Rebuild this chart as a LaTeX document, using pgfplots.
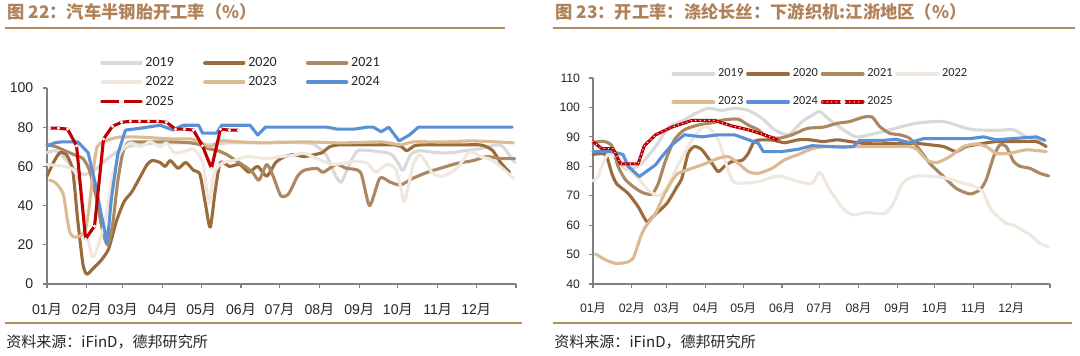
\documentclass[border=0pt]{standalone}
\usepackage{fontspec}
\setmainfont{Liberation Sans}
\newfontfamily\cjk{Noto Sans CJK SC}
\newfontfamily\legfont{Carlito}
\usepackage{pgfplots}
\pgfplotsset{compat=1.18}
\definecolor{c2019}{RGB}{217,217,217}
\definecolor{c2020}{RGB}{155,107,60}
\definecolor{c2021}{RGB}{172,136,96}
\definecolor{c2022}{RGB}{240,232,222}
\definecolor{c2023}{RGB}{220,186,146}
\definecolor{c2024}{RGB}{91,143,214}
\definecolor{c2025}{RGB}{192,0,0}
\definecolor{axisgray}{RGB}{128,128,128}
\definecolor{titlecol}{RGB}{176,130,90}
\definecolor{rulecol}{RGB}{180,140,100}
\definecolor{txt}{RGB}{38,38,38}
\pgfplotsset{
  basechart/.style={
    scale only axis,
    axis x line*=bottom, axis y line*=left,
    axis line style={draw=axisgray, line width=0.3mm},
    tick style={draw=axisgray, line width=0.3mm},
    tick align=outside, major tick length=1mm,
    xmin=0, xmax=365,
    xtick={0,31,59,90,120,151,181,212,243,273,304,334,365},
    xticklabels={01{\cjk 月},02{\cjk 月},03{\cjk 月},04{\cjk 月},05{\cjk 月},06{\cjk 月},07{\cjk 月},08{\cjk 月},09{\cjk 月},10{\cjk 月},11{\cjk 月},12{\cjk 月},{}},
    /pgf/number format/assume math mode=true,
    clip=false,
    legend cell align=left,
    every axis plot/.append style={line width=2.2pt, line join=round, line cap=round},
  },
  redlegL/.style={legend image code/.code={\draw[##1, mark=none, line width=2.8pt] (0mm,0mm) -- (9.6mm,0mm); \fill[white] (4.8mm,0mm) circle (0.9pt);}},
  redlegR/.style={legend image code/.code={\draw[##1, mark=none, line width=2.8pt] (0mm,0mm) -- (10mm,0mm); \fill[white] (5mm,0mm) circle (0.9pt);}},
}
\begin{document}
\begin{tikzpicture}
\path[fill=white, use as bounding box] (0,0) rectangle (270mm,89mm);
% titles and rules
\node[anchor=west, inner sep=0pt, text=titlecol, font=\cjk\bfseries\fontsize{12.3}{14}\selectfont] at (1.75mm,86mm) {图 22：汽车半钢胎开工率（\%）};
\node[anchor=west, inner sep=0pt, text=titlecol, font=\cjk\bfseries\fontsize{12.3}{14}\selectfont] at (138.75mm,86mm) {图 23：开工率：涤纶长丝：下游织机:江浙地区（\%）};
\draw[rulecol, line width=0.5mm] (1.25mm,82mm) -- (126.25mm,82mm);
\draw[rulecol, line width=0.5mm] (138.25mm,82mm) -- (268.75mm,82mm);
\draw[rulecol, line width=0.35mm] (1.25mm,8.25mm) -- (130.5mm,8.25mm);
\draw[rulecol, line width=0.35mm] (138.25mm,8.25mm) -- (268mm,8.25mm);
\node[anchor=west, inner sep=0pt, text=txt, font=\cjk\fontsize{10.7}{12}\selectfont] at (1.5mm,3.5mm) {资料来源：iFinD，德邦研究所};
\node[anchor=west, inner sep=0pt, text=txt, font=\cjk\fontsize{10.7}{12}\selectfont] at (138.5mm,3.5mm) {资料来源：iFinD，德邦研究所};

% LEFT
\begin{axis}[basechart,
  at={(11.75mm,18mm)}, anchor=origin,
  width=117.25mm, height=49mm,
  ymin=0, ymax=100, ytick={0,20,40,60,80,100},
  ticklabel style={font=\fontsize{10}{12}\selectfont, text=txt},
  xticklabel style={yshift=-2.7mm},
  yticklabel style={xshift=-1.2mm},
  legend image code/.code={\draw[#1, line width=2.8pt] (0mm,0mm) -- (9.6mm,0mm);},
  legend columns=3,
  legend style={draw=none, fill=none, inner sep=0pt, at={(axis description cs:0.113,1.172)}, anchor=north west,
    font=\legfont\fontsize{10}{12}\selectfont, text=txt, row sep=0.6mm,
    nodes={inner sep=2pt},
    /tikz/every odd column/.append style={column sep=0pt},
    /tikz/every even column/.append style={column sep=6.6mm}},
]
\addplot[c2019, smooth, tension=0.4] coordinates {(0,67) (7,68) (14,64) (21,59) (28,56) (35,57) (42,61) (49,65) (56,68) (63,70) (70,71) (77,71.5) (84,72) (98,72) (112,72) (126,71) (140,72) (154,72) (168,72) (182,72.5) (196,72) (207,71.5) (217,66) (224,56) (229,52) (236,62) (242,68) (252,68) (267,66.5) (273,62) (277,58) (283,66) (290,68) (303,67) (315,67) (325,68) (337,69) (350,71) (355,70) (364,62)};
\addlegendentry{2019}
\addplot[c2020, smooth, tension=0.4] coordinates {(0,55) (5,62) (10,67) (15,66) (20,58) (24,32) (28,10) (31,5) (36,8) (42,12) (48,18) (54,32) (60,42) (66,47) (72,54) (78,61) (82,63) (88,62) (92,60) (96,63) (102,59) (108,62) (114,58) (119,56) (123,42) (127,29) (131,48) (135,62) (142,60) (150,61) (157,57) (164,60) (171,55) (178,62) (185,65) (192,66) (200,65) (208,66) (214,67) (220,70) (227,71) (241,71) (255,71) (270,71) (276,70) (280,68) (286,70.5) (293,71) (310,71) (325,71) (337,71) (342,70) (347,68) (353,62) (360,57)};
\addlegendentry{2020}
\addplot[c2021, smooth, tension=0.4] coordinates {(0,71) (7,70) (14,68) (21,66) (28,64) (33,58) (38,45) (43,28) (47,20) (51,30) (55,52) (59,67) (63,72) (70,72.5) (84,72.5) (98,72.5) (112,72) (119,71) (126,69) (133,68) (140,66) (147,63) (154,60) (160,57) (165,53) (171,61) (176,55) (182,45) (188,46) (195,55) (200,58) (210,59) (215,57) (225,61) (233,59) (244,57) (251,40) (259,54) (267,52) (275,50.5) (285,54) (296,57) (306,59) (319,61.5) (332,63) (342,65) (353,64) (364,64)};
\addlegendentry{2021}
\addplot[c2022, smooth, tension=0.4] coordinates {(0,61) (7,60.5) (14,60) (21,58) (26,50) (30,30) (35,14) (39,18) (44,29) (48,42) (51,55) (57,67) (65,72) (73,70) (80,72.6) (88,70) (93,72) (99,67) (106,67.5) (114,69) (119,65) (122,60) (126,41) (130,56.5) (136,61.6) (145,63) (156,65) (171,64) (181,65) (190,65.5) (200,66.7) (210,64) (222,61) (241,62.5) (249,61.6) (256,57) (264,61) (271,59) (275,50) (278,42) (282,52) (285,61) (290,66) (295,62) (300,56.5) (308,55) (319,59) (329,67.5) (337,65) (347,63) (363,54)};
\addlegendentry{2022}
\addplot[c2023, smooth, tension=0.4] coordinates {(2,53) (6,52) (10,49) (13,45) (16,32) (18,26) (21,24) (26,24.5) (30,28) (33,40) (36,58) (39,70) (44,72.5) (50,74) (57,75) (70,75) (84,74.5) (98,74) (112,74) (119,72.6) (127,70) (135,73) (150,72.5) (170,72) (200,72.5) (230,72) (260,72.5) (275,71) (285,72.5) (310,72.5) (330,73) (350,72.5) (363,72)};
\addlegendentry{2023}
\addplot[c2024] coordinates {(0,70.5) (6,72) (11,72.5) (24,72.5) (32,67) (38,50) (42,36) (47,21) (50,43) (55,66) (61,78.5) (73,79.5) (88,81) (98,78.6) (106,81) (118,81) (121,77) (132,77) (136,81) (158,81) (164,76) (170,80) (218,80) (226,79) (239,79) (249,80) (254,80) (260,77.7) (266,80) (274,73) (282,76) (289,80) (362,80)};
\addlegendentry{2024}
\addplot[c2025, mark=*, mark size=1pt, mark options={fill=white, draw=white, line width=0.2pt}, redlegL]
 coordinates {(2,79.5) (9,79.5) (16,79) (23,70.5) (30,23) (37,29.5) (44,74) (51,80.5) (58,82.5) (65,83) (72,83) (79,83) (86,83) (93,82.5) (100,79) (107,79) (114,78.5) (121,70.5) (128,59) (135,79) (142,78.5) (149,78.5)};
\addlegendentry{2025}
\end{axis}

% RIGHT
\begin{axis}[basechart,
  at={(148.25mm,18mm)}, anchor=origin,
  width=114.25mm, height=51.5mm,
  ymin=40, ymax=110, ytick={40,50,60,70,80,90,100,110},
  ticklabel style={font=\fontsize{8.7}{10}\selectfont, text=txt},
  xticklabel style={yshift=-2.6mm},
  yticklabel style={xshift=-1mm},
  legend image code/.code={\draw[#1, line width=2.8pt] (0mm,0mm) -- (10mm,0mm);},
  legend columns=4,
  legend style={draw=none, fill=none, inner sep=0pt, at={(axis description cs:0.171,1.06)}, anchor=north west,
    font=\legfont\fontsize{8.8}{10}\selectfont, text=txt, row sep=3.1mm,
    nodes={inner sep=2pt},
    /tikz/every odd column/.append style={column sep=0pt},
    /tikz/every even column/.append style={column sep=0mm}},
]
\addplot[c2019, smooth, tension=0.4] coordinates {(0,85) (10,85) (18,83) (26,79) (33,79.5) (39,81) (50,86.7) (60,93) (73,95.8) (82,98) (92,99.7) (103,99) (113,99.7) (124,99) (135,96.3) (145,92.4) (156,90.7) (167,95.2) (175,97.3) (181,98.6) (189,95.8) (200,92.4) (210,90) (221,90.7) (237,92.4) (258,94.6) (280,95.2) (301,92.6) (322,92.2) (336,92.4) (346,90) (357,89)};
\addlegendentry{2019}
\addplot[c2020, smooth, tension=0.4] coordinates {(0,84) (10,84) (15,77.6) (19,74) (28,70.8) (36,66.3) (43,61.2) (48,63) (59,67.4) (67,73) (71,76) (76,84.4) (81,86.7) (87,85.6) (95,81) (100,78.2) (105,80) (111,81.6) (119,82) (124,84.4) (129,88.5) (137,89) (145,88.8) (153,88) (164,89) (173,89) (184,88.4) (195,89) (205,88.4) (216,87.8) (227,87.6) (243,87.8) (258,87.8) (269,87.3) (280,86.7) (290,85) (298,86.7) (312,87.8) (322,88.4) (338,88.4) (354,88.4) (362,86.7)};
\addlegendentry{2020}
\addplot[c2021, smooth, tension=0.4] coordinates {(0,88) (8,88.5) (15,87) (20,80) (26,75.4) (34,72.5) (40,71) (47,70.5) (52,74) (58,82) (65,89) (73,92.4) (84,94) (95,94.8) (105,95.8) (116,96) (124,94) (132,92.4) (137,90.5) (148,89.5) (159,90.7) (169,92.6) (173,93) (184,93.3) (195,94.6) (205,95.2) (216,96.7) (223,96.7) (229,93.5) (237,91.2) (245,90.7) (253,89.5) (261,85.6) (269,81) (280,76.5) (290,72.5) (301,70.6) (309,72) (314,75.4) (320,83.3) (325,87.3) (330,86.7) (336,81.6) (341,80) (349,79.3) (357,77.6) (364,76.7)};
\addlegendentry{2021}
\addplot[c2022, smooth, tension=0.4] coordinates {(0,75) (4,76.5) (8,81) (12,84) (20,83) (28,79) (36,76) (44,72) (52,70) (58,72) (63,76) (68,80.5) (79,89) (87,93) (92,93.3) (100,89) (107,80) (111,75.4) (116,74.2) (132,74.8) (148,76.7) (164,74.8) (175,74.2) (181,78) (189,72) (200,65.5) (208,63.5) (218,64.3) (233,64) (240,67.4) (245,72.5) (250,75.4) (259,76.7) (275,76.5) (285,75.6) (296,74.2) (306,73) (312,70.8) (318,65.2) (330,60.6) (336,60) (349,56.7) (357,53.8) (364,52.7)};
\addlegendentry{2022}
\addplot[c2023, smooth, tension=0.4] coordinates {(2,50.2) (10,48.2) (18,47) (26,47.3) (32,48.7) (38,56) (42,59.5) (50,64) (56,69.7) (63,75) (68,77.6) (79,79.3) (89,80.8) (100,82.7) (108,83.3) (116,81) (124,78.2) (132,77.6) (143,79.3) (153,82.2) (164,84) (175,86) (185,86.7) (200,86.7) (220,86.7) (240,86.7) (253,86.7) (259,85.6) (267,82) (275,81.3) (285,83.3) (296,86.7) (306,87.6) (314,86.7) (322,84.4) (333,84.4) (346,85.6) (362,85)};
\addlegendentry{2023}
\addplot[c2024] coordinates {(0,85) (15,85) (24,84) (28,80) (37,76.5) (50,80.5) (55,83.3) (63,87.3) (73,90.7) (87,90) (100,90.7) (113,90.7) (121,89.5) (132,87.8) (136,85) (151,85) (164,85.8) (175,87) (189,86.7) (200,86.5) (208,86.7) (213,88.8) (232,88.8) (242,89.2) (253,88) (264,89.4) (301,89.4) (312,90) (322,89) (338,89.5) (354,90) (361,88.8)};
\addlegendentry{2024}
\addplot[c2025, postaction={draw=white, line width=1pt, dash pattern=on 0pt off 3.2pt, line cap=round}, redlegR] coordinates {(0,88.4) (7,86) (16,86) (22,80.8) (36,80.8) (41,87) (50,90.7) (63,93.3) (79,95.6) (97,95.6) (111,93.7) (124,92.4) (137,90.7) (148,88.8)};
\addlegendentry{2025}
\end{axis}
\end{tikzpicture}
\end{document}
